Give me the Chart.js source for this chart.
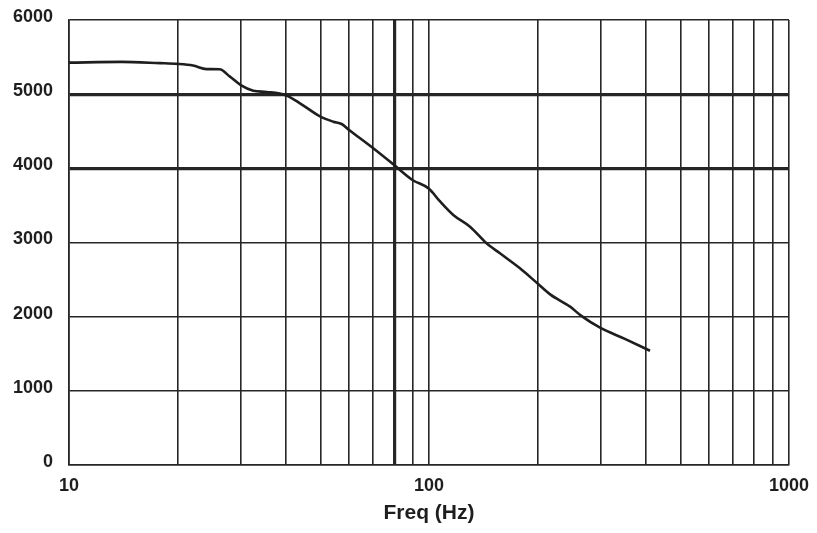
<!DOCTYPE html>
<html>
<head>
<meta charset="utf-8">
<script src="https://cdn.jsdelivr.net/npm/chart.js@4/dist/chart.umd.min.js"></script>
<style>
  html, body { margin: 0; padding: 0; background: #fff; }
  #wrap { width: 817px; height: 533px; }
</style>
</head>
<body>
<div id="wrap"><canvas id="chart" width="817" height="533"></canvas></div>
<script>
// Frequency (Hz) and value
const freqs  = [10, 14, 17.9, 20, 22.1, 24.1, 26.2, 28, 30, 32.5, 35.4, 40, 43.8, 49.8, 54.2, 57.2, 60, 70, 80, 90, 100, 107, 116.8, 130, 144.5, 157.4, 178.9, 200, 217, 246.6, 265, 298.6, 350, 411];
const values = [5425, 5435, 5418, 5408, 5386, 5338, 5335, 5236, 5123, 5047, 5030, 4985, 4877, 4700, 4629, 4598, 4517, 4270, 4045, 3843, 3725, 3560, 3371, 3213, 2989, 2854, 2652, 2450, 2300, 2135, 2010, 1851, 1700, 1541];

// Grid lines of the log axis and which ones carry a label
const xGrid   = [10, 20, 30, 40, 50, 60, 70, 80, 90, 100, 200, 300, 400, 500, 600, 700, 800, 900, 1000];
const xLabels = [10, 100, 1000];
const yTicks  = [0, 1000, 2000, 3000, 4000, 5000, 6000];
const xHeavy  = [80];
const yHeavy  = [4000, 5000];

const gridColor = '#262626';
const font = { family: '"Liberation Sans", Arial, sans-serif', size: 18, weight: 'bold' };

const points = freqs.map((f, i) => ({ x: f, y: values[i] }));

// let the layout padding alone decide where the plot box sits
const noScalePadding = (scale) => {
    scale.paddingTop = 0;
    scale.paddingBottom = 0;
    scale.paddingLeft = 0;
    scale.paddingRight = 0;
};

new Chart(document.getElementById('chart'), {
    type: 'scatter',
    data: {
        datasets: [{
            data: points,
            showLine: true,
            borderColor: '#1e1e1e',
            borderWidth: 2.6,
            pointRadius: 0,
            cubicInterpolationMode: 'monotone',
            fill: false
        }]
    },
    options: {
        responsive: false,
        animation: false,
        layout: { padding: { top: 20, right: 28, left: 0, bottom: 0 } },
        plugins: { legend: { display: false }, tooltip: { enabled: false } },
        scales: {
            x: {
                type: 'logarithmic',
                min: 10,
                max: 1000,
                afterBuildTicks: (scale) => { scale.ticks = xGrid.map(v => ({ value: v })); },
                afterFit: (scale) => { scale.height = 68; noScalePadding(scale); },
                ticks: {
                    autoSkip: false,
                    maxRotation: 0,
                    padding: 10,
                    color: '#1e1e1e',
                    font: font,
                    callback: (v) => xLabels.includes(v) ? String(v) : ''
                },
                grid: {
                    drawTicks: false,
                    color: gridColor,
                    lineWidth: (ctx) => ctx.tick && xHeavy.includes(ctx.tick.value) ? 3.2 : 1.6
                },
                border: { color: gridColor, width: 1.6 },
                title: {
                    display: true,
                    text: 'Freq (Hz)',
                    color: '#1e1e1e',
                    font: { family: '"Liberation Sans", Arial, sans-serif', size: 21, weight: 'bold' },
                    padding: { top: 0, bottom: 7 }
                }
            },
            y: {
                min: 0,
                max: 6000,
                afterBuildTicks: (scale) => { scale.ticks = yTicks.map(v => ({ value: v })); },
                afterFit: (scale) => { scale.width = 69; noScalePadding(scale); },
                ticks: {
                    padding: 16,
                    labelOffset: -3,
                    color: '#1e1e1e',
                    font: font,
                    callback: (v) => String(v)
                },
                grid: {
                    drawTicks: false,
                    color: gridColor,
                    lineWidth: (ctx) => ctx.tick && yHeavy.includes(ctx.tick.value) ? 3.2 : 1.6
                },
                border: { color: gridColor, width: 1.6 }
            }
        }
    }
});
</script>
</body>
</html>
